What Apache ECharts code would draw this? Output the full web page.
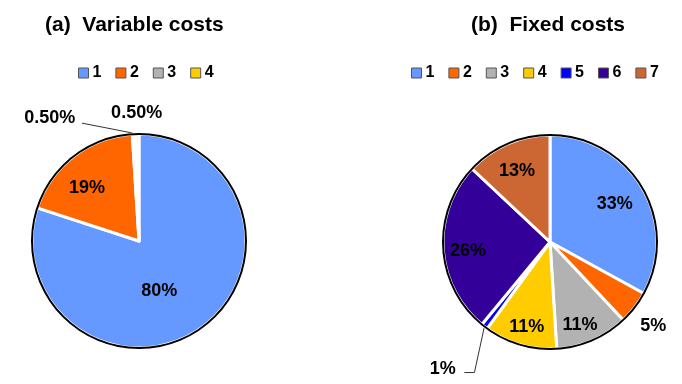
<!DOCTYPE html>
<html>
<head>
<meta charset="utf-8">
<script src="https://cdn.jsdelivr.net/npm/echarts@6/dist/echarts.min.js"></script>
<style>
  html, body { margin: 0; padding: 0; background: #fff; }
  #chart { width: 682px; height: 384px; }
</style>
</head>
<body>
<div id="chart"></div>
<script>
// (a) variable costs, share in %
const variableNames = ['1', '2', '3', '4'];
const variableShares = [80, 19, 0.5, 0.5];

// (b) fixed costs, share in %
const fixedNames = ['1', '2', '3', '4', '5', '6', '7'];
const fixedShares = [33, 5, 11, 11, 1, 26, 13];

const colors = ['#6699FF', '#FF6600', '#B2B2B2', '#FFCC00', '#0000FF', '#330099', '#CC6633'];

const FONT = '"Liberation Sans", Arial, sans-serif';

const labelText = {
  color: '#000',
  fontFamily: FONT,
  fontWeight: 'bold',
  fontSize: 18,
  formatter: p => (p.value < 1 ? p.value.toFixed(2) : p.value) + '%'
};

// small label shifts (px) so the labels sit where the original puts them
const nudgeA = { 0: [-13, 4], 1: [-1, 13], 2: [-7, -2], 3: [32, -11] };
const nudgeB = { 0: [-7, 4], 1: [-15, 6], 2: [-3, 7], 3: [0, 5], 4: [12, 7], 5: [1, 4], 6: [0, 5] };

// leader line bends, relative to the point where the line leaves the rim
const leaderA = { 2: [[-1, -1], [-52, -11]] };
const leaderB = { 4: [[-10, 46], [-20, 46]] };

function nudger(table, leader) {
  return function (params) {
    const out = {};
    const n = table[params.dataIndex];
    if (n) {
      out.dx = n[0];
      out.dy = n[1];
    }
    const l = leader && leader[params.dataIndex];
    if (l && params.labelLinePoints) {
      const p0 = params.labelLinePoints[0];
      out.labelLinePoints = [[p0[0], p0[1]]].concat(l.map(d => [p0[0] + d[0], p0[1] + d[1]]));
    }
    return out;
  };
}

// builds the three layers of one pie: slices, a transparent ring that carries
// the outer-ring labels, and the thin black rim
function buildPie(names, values, center, r, ringLabels, outside, nudge, leader) {
  const slices = {
    type: 'pie',
    center: center,
    radius: r,
    startAngle: 90,
    clockwise: true,
    avoidLabelOverlap: false,
    emphasis: { disabled: true },
    itemStyle: { borderColor: '#fff', borderWidth: 3 },
    label: Object.assign({ show: false }, labelText),
    labelLine: { show: false, lineStyle: { color: '#333', width: 1 } },
    labelLayout: nudger(nudge, leader),
    data: names.map((n, i) => {
      const item = { name: n, value: values[i], itemStyle: { color: colors[i] } };
      if (outside[i]) {
        item.label = { show: true, position: 'outside' };
        item.labelLine = outside[i];
      } else if (ringLabels.indexOf(i) < 0) {
        item.label = { show: true, position: 'inside' };
      }
      return item;
    })
  };
  const ring = {
    type: 'pie',
    center: center,
    radius: [r / 2, r],
    startAngle: 90,
    clockwise: true,
    silent: true,
    avoidLabelOverlap: false,
    itemStyle: { color: 'rgba(0,0,0,0)', borderWidth: 0 },
    label: Object.assign({ show: false, position: 'inside' }, labelText),
    labelLine: { show: false },
    labelLayout: nudger(nudge),
    data: names.map((n, i) => ({
      name: n,
      value: values[i],
      label: { show: ringLabels.indexOf(i) >= 0 }
    }))
  };
  const rim = {
    type: 'pie',
    center: center,
    radius: [r - 1, r + 1],
    silent: true,
    label: { show: false },
    labelLine: { show: false },
    itemStyle: { color: '#000' },
    data: [{ name: 'rim', value: 1 }]
  };
  return [slices, ring, rim];
}

const chart = echarts.init(document.getElementById('chart'));

const legendBase = {
  top: 60,
  icon: 'rect',
  itemWidth: 10,
  itemHeight: 10,
  itemGap: 14,
  itemStyle: { borderColor: '#555', borderWidth: 1 },
  textStyle: { color: '#000', fontFamily: FONT, fontWeight: 'bold', fontSize: 16, padding: [0, 0, 0, -1] },
  selectedMode: false
};

const titleText = { color: '#000', fontFamily: FONT, fontWeight: 'bold', fontSize: 21 };

const option = {
  animation: false,
  backgroundColor: '#fff',
  title: [
    { text: '(a)  Variable costs', left: 40, top: 10, textStyle: titleText },
    { text: '(b)  Fixed costs', left: 466, top: 10, textStyle: titleText }
  ],
  legend: [
    Object.assign({ left: 73, data: variableNames }, legendBase),
    Object.assign({ left: 406, data: fixedNames }, legendBase)
  ],
  series: [].concat(
    buildPie(variableNames, variableShares, [139, 241], 107, [1], {
      2: { show: true, length: 14, length2: 46, lineStyle: { color: '#333', width: 1 } },
      3: { show: false, length: 10, length2: 2 }
    }, nudgeA, leaderA),
    buildPie(fixedNames, fixedShares, [550, 242], 107, [0, 2, 3, 5, 6], {
      1: { show: false, length: 20, length2: 0 },
      4: { show: true, length: 45, length2: 8, lineStyle: { color: '#333', width: 1 } }
    }, nudgeB, leaderB)
  )
};

chart.setOption(option);
</script>
</body>
</html>
